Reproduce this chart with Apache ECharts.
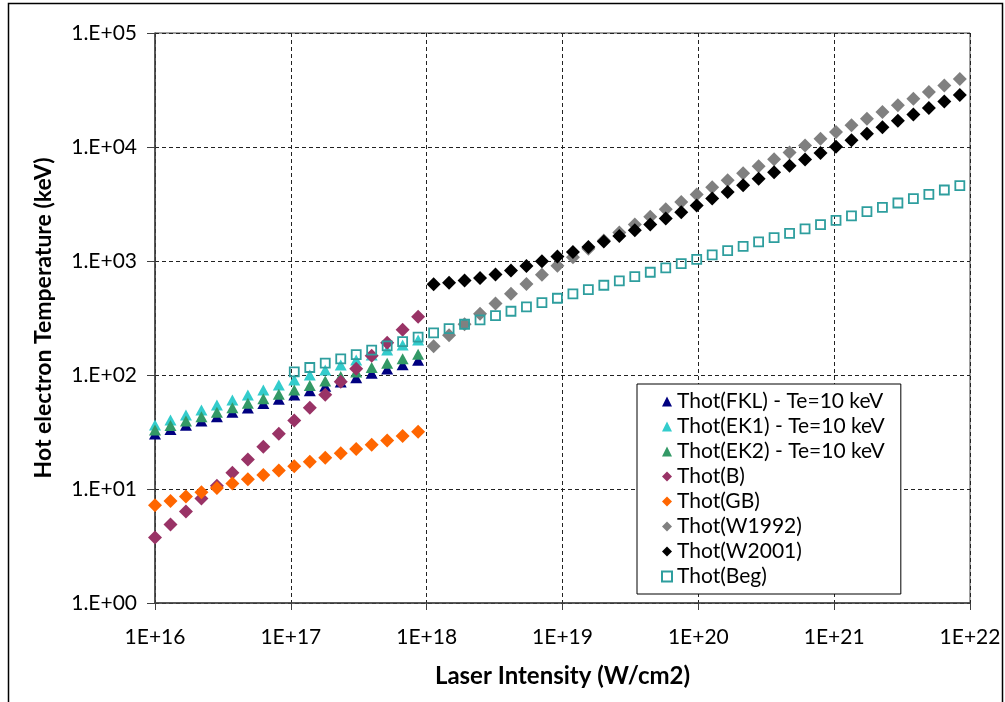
<!DOCTYPE html>
<html>
<head>
<meta charset="utf-8">
<script src="https://cdn.jsdelivr.net/npm/echarts@6/dist/echarts.min.js"></script>
<style>
html,body{margin:0;padding:0;background:#fff;}
#chart{width:1005px;height:702px;}
</style>
</head>
<body>
<div id="chart"></div>
<script>
// Laser intensity (W/cm2) sample points
var intensity = [1.0e16, 1.3e16, 1.69e16, 2.197e16, 2.856e16, 3.713e16, 4.827e16, 6.275e16, 8.157e16,
  1.060e17, 1.379e17, 1.792e17, 2.330e17, 3.029e17, 3.937e17, 5.119e17, 6.654e17, 8.650e17,
  1.125e18, 1.462e18, 1.901e18, 2.471e18, 3.212e18, 4.175e18, 5.428e18, 7.056e18, 9.173e18,
  1.193e19, 1.550e19, 2.015e19, 2.620e19, 3.406e19, 4.428e19, 5.756e19, 7.483e19, 9.728e19,
  1.265e20, 1.644e20, 2.137e20, 2.778e20, 3.612e20, 4.695e20, 6.104e20, 7.935e20,
  1.032e21, 1.341e21, 1.743e21, 2.266e21, 2.946e21, 3.830e21, 4.979e21, 6.473e21, 8.415e21];

// Hot electron temperatures (keV)
var fkl = [30.4, 33.2, 36.2, 39.5, 43.1, 47.1, 51.4, 56.1, 61.2, 66.8, 72.9, 79.6, 86.8, 94.8, 103.4, 112.9, 123.2, 134.4];
var ek1 = [36.4, 40.3, 44.6, 49.3, 54.5, 60.3, 66.7, 73.8, 81.6, 90.3, 99.9, 110.5, 122.2, 135.2, 149.6, 165.5, 183.1, 202.5];
var ek2 = [32.9, 36.0, 39.4, 43.1, 47.2, 51.6, 56.5, 61.8, 67.7, 74.0, 81.0, 88.7, 97.0, 106.2, 116.2, 127.1, 139.1, 152.3];
var thB = [3.75, 4.88, 6.34, 8.24, 10.7, 13.9, 18.1, 23.5, 30.6, 39.8, 51.7, 67.2, 87.4, 113.6, 147.6, 192.0, 249.5, 324.4];
var thGB = [7.2, 7.86, 8.58, 9.36, 10.2, 11.2, 12.2, 13.3, 14.5, 15.8, 17.3, 18.8, 20.6, 22.4, 24.5, 26.7, 29.2, 31.8];
var w1992 = [178.6, 223.7, 278.5, 344.6, 423.3, 517.1, 627.3, 756.3, 906.6, 1081, 1282, 1514, 1781, 2088, 2439, 2840,
  3300, 3825, 4425, 5110, 5892, 6784, 7802, 8963, 10287, 11798, 13521, 15485, 17724, 20279, 23192, 26513, 30300, 34618, 39541];
var w2001 = [625, 644, 673, 711, 762, 824, 902, 995, 1096, 1202, 1330, 1486, 1660, 1862, 2094, 2360, 2679, 3069, 3532,
  4036, 4613, 5272, 6012, 6839, 7780, 8851, 10069, 11482, 13092, 14894, 16982, 19320, 22029, 25061, 28576];
var beg = [106.6, 116.3, 126.9, 138.5, 151.2, 165.0, 180.1, 196.5, 214.5, 234.1, 255.5, 278.8, 304.3, 332.1, 362.5,
  395.6, 431.8, 471.2, 514.3, 561.3, 612.6, 668.6, 729.7, 796.4, 869.2, 948.7, 1035, 1130, 1233, 1346, 1469, 1603,
  1750, 1910, 2084, 2275, 2483, 2710, 2957, 3228, 3523, 3844, 4196, 4579];

var seriesNames = ['Thot(FKL) - Te=10 keV', 'Thot(EK1) - Te=10 keV', 'Thot(EK2) - Te=10 keV', 'Thot(B)',
  'Thot(GB)', 'Thot(W1992)', 'Thot(W2001)', 'Thot(Beg)'];
var xTicks = ['1E+16', '1E+17', '1E+18', '1E+19', '1E+20', '1E+21', '1E+22'];
var yTicks = ['1.E+00', '1.E+01', '1.E+02', '1.E+03', '1.E+04', '1.E+05'];

function pair(startIdx, vals) {
  return vals.map(function (v, i) { return [intensity[startIdx + i], v]; });
}

var FONT = 'Lato';
var chart = echarts.init(document.getElementById('chart'), null, {renderer: 'canvas'});

function tri(name, data, color) {
  return {name: name, type: 'scatter', data: data, symbol: 'triangle', symbolSize: [12, 11],
    itemStyle: {color: color, opacity: 1}, emphasis: {disabled: true}};
}
function dia(name, data, color) {
  return {name: name, type: 'scatter', data: data, symbol: 'diamond', symbolSize: 14,
    itemStyle: {color: color, opacity: 1}, emphasis: {disabled: true}};
}

var option = {
  animation: false,
  backgroundColor: '#fff',
  grid: {left: 155, right: 35, top: 33, bottom: 99, show: true, borderColor: '#404040', borderWidth: 1},
  xAxis: {
    type: 'log', logBase: 10, min: 1e16, max: 1e22,
    name: 'Laser Intensity (W/cm2)', nameLocation: 'middle', nameGap: 61,
    nameTextStyle: {fontFamily: FONT, fontWeight: 'bold', fontSize: 24, color: '#000'},
    axisLine: {lineStyle: {color: '#404040', width: 1.5}},
    axisTick: {show: true, length: 7, lineStyle: {color: '#404040'}},
    minorTick: {show: false},
    axisLabel: {fontFamily: FONT, fontSize: 21, color: '#000', margin: 24,
      formatter: function (v) { var e = Math.round(Math.log10(v)); return xTicks[e - 16]; }},
    splitLine: {show: true, lineStyle: {color: '#222', type: [4, 3], width: 1}}
  },
  yAxis: {
    type: 'log', logBase: 10, min: 1, max: 1e5,
    name: 'Hot electron Temperature (keV)', nameLocation: 'middle', nameGap: 100, nameRotate: 90,
    nameTextStyle: {fontFamily: FONT, fontWeight: 'bold', fontSize: 23, color: '#000'},
    axisLine: {show: true, lineStyle: {color: '#404040', width: 1.5}},
    axisTick: {show: true, length: 8, lineStyle: {color: '#404040'}},
    axisLabel: {fontFamily: FONT, fontSize: 21, color: '#000', margin: 18,
      formatter: function (v) { var e = Math.round(Math.log10(v)); return yTicks[e]; }},
    splitLine: {show: true, lineStyle: {color: '#222', type: [4, 3], width: 1}}
  },
  legend: {
    orient: 'vertical', left: 637, top: 384,
    padding: [7, 16, 7, 24], itemGap: 4, itemWidth: 10, itemHeight: 10,
    borderColor: '#000', borderWidth: 1, backgroundColor: '#fff',
    textStyle: {fontFamily: FONT, fontSize: 21, color: '#000', lineHeight: 21},
    data: [
      {name: seriesNames[0], icon: 'triangle'},
      {name: seriesNames[1], icon: 'triangle'},
      {name: seriesNames[2], icon: 'triangle'},
      {name: seriesNames[3], icon: 'diamond'},
      {name: seriesNames[4], icon: 'diamond'},
      {name: seriesNames[5], icon: 'diamond'},
      {name: seriesNames[6], icon: 'diamond'},
      {name: seriesNames[7], icon: 'rect'}
    ]
  },
  graphic: [{type: 'rect', shape: {x: 8.5, y: 3.5, width: 994, height: 720},
    style: {fill: 'none', stroke: '#000', lineWidth: 1.5}, silent: true, z: 100}],
  series: [
    tri(seriesNames[0], pair(0, fkl), '#000080'),
    tri(seriesNames[1], pair(0, ek1), '#33CCCC'),
    tri(seriesNames[2], pair(0, ek2), '#339966'),
    dia(seriesNames[3], pair(0, thB), '#993366'),
    dia(seriesNames[4], pair(0, thGB), '#FF6600'),
    dia(seriesNames[5], pair(18, w1992), '#808080'),
    dia(seriesNames[6], pair(18, w2001), '#000000'),
    {name: seriesNames[7], type: 'scatter', data: pair(9, beg), symbol: 'rect', symbolSize: 9,
      itemStyle: {color: 'rgba(255,255,255,0)', borderColor: '#2E9E9E', borderWidth: 1.8, opacity: 1},
      emphasis: {disabled: true}}
  ]
};
chart.setOption(option);
</script>
</body>
</html>
